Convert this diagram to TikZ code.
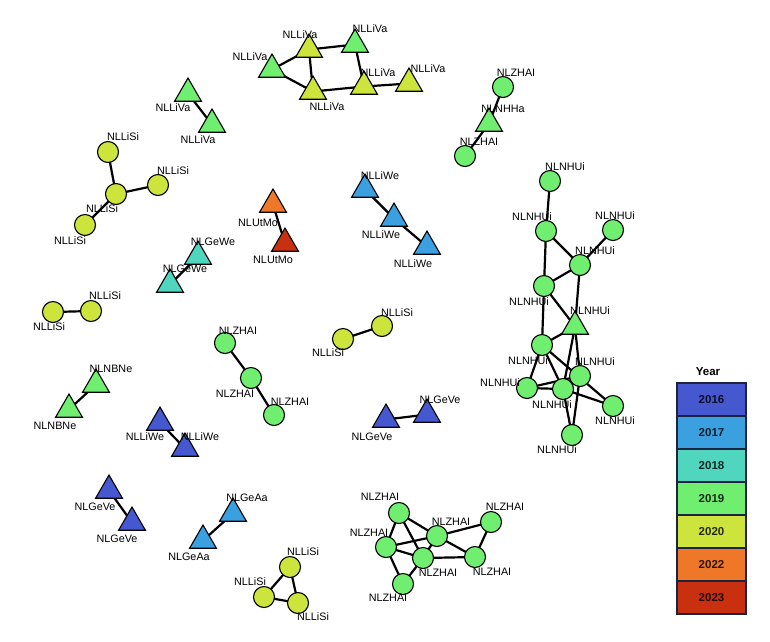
\documentclass[tikz,border=0pt]{standalone}
\usepackage{fontspec}
\setmainfont{Liberation Sans}
\usetikzlibrary{shapes.geometric}
\pgfdeclarelayer{bg}
\pgfsetlayers{bg,main}
\definecolor{c16}{RGB}{70,88,208}
\definecolor{c17}{RGB}{58,160,224}
\definecolor{c18}{RGB}{80,214,190}
\definecolor{c19}{RGB}{112,238,112}
\definecolor{c20}{RGB}{205,228,60}
\definecolor{c22}{RGB}{238,120,40}
\definecolor{c23}{RGB}{200,48,16}
\definecolor{legline}{RGB}{28,35,64}
\begin{document}
\begin{tikzpicture}[x=1pt,y=-1pt,
  tri/.style={regular polygon, regular polygon sides=3, minimum size=31pt, inner sep=0pt, draw=black, line width=1.1pt, yshift=-1.5pt},
  circ/.style={circle, minimum size=21pt, inner sep=0pt, draw=black, line width=1.1pt},
  lab/.style={font=\fontsize{10.8}{12}\selectfont, inner sep=0pt},
  link/.style={line width=2.2pt, black},
  legbox/.style={draw=legline, line width=1.6pt, minimum width=69pt, minimum height=33pt, inner sep=0pt, font=\bfseries\fontsize{11.5}{13}\selectfont, text opacity=0.82}]
\useasboundingbox (0,0) rectangle (770,641);
% ---- NLLiVa group
\node[tri,fill=c19] (v1) at (272,68) {};
\node[tri,fill=c20] (v2) at (309,48) {};
\node[tri,fill=c19] (v3) at (355,43) {};
\node[tri,fill=c20] (v4) at (313,90) {};
\node[tri,fill=c20] (v5) at (364,85) {};
\node[tri,fill=c20] (v6) at (409,82) {};
\node[tri,fill=c19] (w1) at (188,92) {};
\node[tri,fill=c19] (w2) at (212,123) {};
% ---- NLLiSi star
\node[circ,fill=c20] (s1) at (108,152) {};
\node[circ,fill=c20] (s2) at (158,185) {};
\node[circ,fill=c20] (s3) at (116,194) {};
\node[circ,fill=c20] (s4) at (85,225) {};
% ---- NLNHHa
\node[circ,fill=c19] (h1) at (503,87) {};
\node[tri,fill=c19] (h2) at (489,122) {};
\node[circ,fill=c19] (h3) at (465,156) {};
% ---- NLUtMo
\node[tri,fill=c22] (u1) at (273,203) {};
\node[tri,fill=c23] (u2) at (285,242) {};
% ---- NLLiWe 2017
\node[tri,fill=c17] (e1) at (365,188) {};
\node[tri,fill=c17] (e2) at (394,217) {};
\node[tri,fill=c17] (e3) at (427,245) {};
% ---- NLGeWe
\node[tri,fill=c18] (g1) at (198,255) {};
\node[tri,fill=c18] (g2) at (170,283) {};
% ---- NLNHUi cluster
\node[circ,fill=c19] (nA) at (550,181) {};
\node[circ,fill=c19] (nB) at (546,231) {};
\node[circ,fill=c19] (nC) at (613,230) {};
\node[circ,fill=c19] (nD) at (580,265) {};
\node[circ,fill=c19] (nE) at (544,286) {};
\node[tri,fill=c19] (nF) at (575,325) {};
\node[circ,fill=c19] (nG) at (542,345) {};
\node[circ,fill=c19] (nH) at (580,376) {};
\node[circ,fill=c19] (nI) at (527,388) {};
\node[circ,fill=c19] (nJ) at (563,389) {};
\node[circ,fill=c19] (nK) at (613,406) {};
\node[circ,fill=c19] (nL) at (572,435) {};
% ---- small pairs
\node[circ,fill=c20] (l1) at (53,312) {};
\node[circ,fill=c20] (l2) at (91,311) {};
\node[tri,fill=c19] (b1) at (96,383) {};
\node[tri,fill=c19] (b2) at (69,408) {};
\node[tri,fill=c16] (x1) at (160,421) {};
\node[tri,fill=c16] (x2) at (185,447) {};
\node[circ,fill=c19] (z1) at (225,343) {};
\node[circ,fill=c19] (z2) at (251,378) {};
\node[circ,fill=c19] (z3) at (274,415) {};
\node[circ,fill=c20] (m1) at (343,339) {};
\node[circ,fill=c20] (m2) at (382,326) {};
\node[tri,fill=c16] (q1) at (386,418) {};
\node[tri,fill=c16] (q2) at (427,413) {};
\node[tri,fill=c16] (p1) at (109,489) {};
\node[tri,fill=c16] (p2) at (132,521) {};
\node[tri,fill=c17] (a1) at (233,512) {};
\node[tri,fill=c17] (a2) at (203,539) {};
\node[circ,fill=c20] (t1) at (290,567) {};
\node[circ,fill=c20] (t2) at (264,597) {};
\node[circ,fill=c20] (t3) at (298,603) {};
% ---- NLZHAI cluster
\node[circ,fill=c19] (ka) at (399,513) {};
\node[circ,fill=c19] (kb) at (386,547) {};
\node[circ,fill=c19] (kc) at (437,536) {};
\node[circ,fill=c19] (kd) at (491,522) {};
\node[circ,fill=c19] (ke) at (423,558) {};
\node[circ,fill=c19] (kf) at (475,557) {};
\node[circ,fill=c19] (kg) at (403,584) {};
% ---- edges
\begin{pgfonlayer}{bg}
\foreach \a/\b in {v1/v2,v1/v4,v2/v3,v2/v4,v3/v5,v4/v5,v5/v6,w1/w2,
  s1/s3,s2/s3,s3/s4,h1/h2,h2/h3,u1/u2,e1/e2,e2/e3,g1/g2,
  nA/nB,nB/nD,nC/nD,nB/nE,nD/nE,nD/nF,nE/nF,nE/nG,nF/nG,nF/nJ,nF/nH,
  nG/nI,nG/nJ,nG/nK,nI/nJ,nI/nH,nJ/nK,nH/nL,nJ/nL,
  l1/l2,b1/b2,x1/x2,z1/z2,z2/z3,m1/m2,q1/q2,p1/p2,a1/a2,t1/t2,t2/t3,t1/t3,
  ka/kb,ka/kc,ka/ke,kb/kc,kb/ke,kb/kg,kc/kd,kc/ke,kc/kf,ke/kf,kd/kf,ke/kg}
  \draw[link] (\a.center) -- (\b.center);
\end{pgfonlayer}
% ---- labels
\foreach \n/\x/\y/\t in {
  Lv1/250/57/NLLiVa, Lv2/300/35/NLLiVa, Lv3/370/29/NLLiVa, Lv4/327/107/NLLiVa,
  Lv5/378/73/NLLiVa, Lv6/428/69/NLLiVa, Lw1/173/108/NLLiVa, Lw2/198/140/NLLiVa,
  Ls1/123/137/NLLiSi, Ls2/173/171/NLLiSi, Ls3/102/209/NLLiSi, Ls4/70/241/NLLiSi,
  Lh1/516/73/NLZHAI, Lh2/503/109/NLNHHa, Lh3/479/142/NLZHAI,
  Lu1/258/223/NLUtMo, Lu2/273/260/NLUtMo,
  Le1/380/176/NLLiWe, Le2/381/235/NLLiWe, Le3/413/264/NLLiWe,
  Lg1/213/242/NLGeWe, Lg2/185/269/NLGeWe,
  LnA/565/167/NLNHUi, LnB/532/217/NLNHUi, LnC/615/216/NLNHUi, LnD/595/251/NLNHUi,
  LnE/529/302/NLNHUi, LnF/590/311/NLNHUi, LnG/528/361/NLNHUi, LnH/595/362/NLNHUi,
  LnI/500/383/NLNHUi, LnJ/552/405/NLNHUi, LnK/615/421/NLNHUi, LnL/557/450/NLNHUi,
  Ll1/49/327/NLLiSi, Ll2/105/296/NLLiSi, Lb1/111/369/NLNBNe, Lb2/55/426/NLNBNe,
  Lx1/145/437/NLLiWe, Lx2/200/437/NLLiWe,
  Lz1/238/331/NLZHAI, Lz2/235/394/NLZHAI, Lz3/290/402/NLZHAI,
  Lm1/328/353/NLLiSi, Lm2/397/313/NLLiSi, Lq1/372/437/NLGeVe, Lq2/440/400/NLGeVe,
  Lp1/95/507/NLGeVe, Lp2/117/539/NLGeVe, La1/247/498/NLGeAa, La2/189/557/NLGeAa,
  Lt1/303/552/NLLiSi, Lt2/250/582/NLLiSi, Lt3/313/617/NLLiSi,
  Lka/380/497/NLZHAI, Lkb/369/533/NLZHAI, Lkc/451/522/NLZHAI, Lkd/505/507/NLZHAI,
  Lke/438/573/NLZHAI, Lkf/492/572/NLZHAI, Lkg/388/598/NLZHAI}
  \node[lab] (\n) at (\x,\y) {\t};
% ---- legend
\node[font=\bfseries\fontsize{11.5}{13}\selectfont] (year) at (708,372) {Year};
\foreach \i/\c/\t in {0/c16/2016,1/c17/2017,2/c18/2018,3/c19/2019,4/c20/2020,5/c22/2022,6/c23/2023}
  \node[legbox, fill=\c] (leg\t) at (711.5,399.5+33*\i) {\t};
\end{tikzpicture}
\end{document}
